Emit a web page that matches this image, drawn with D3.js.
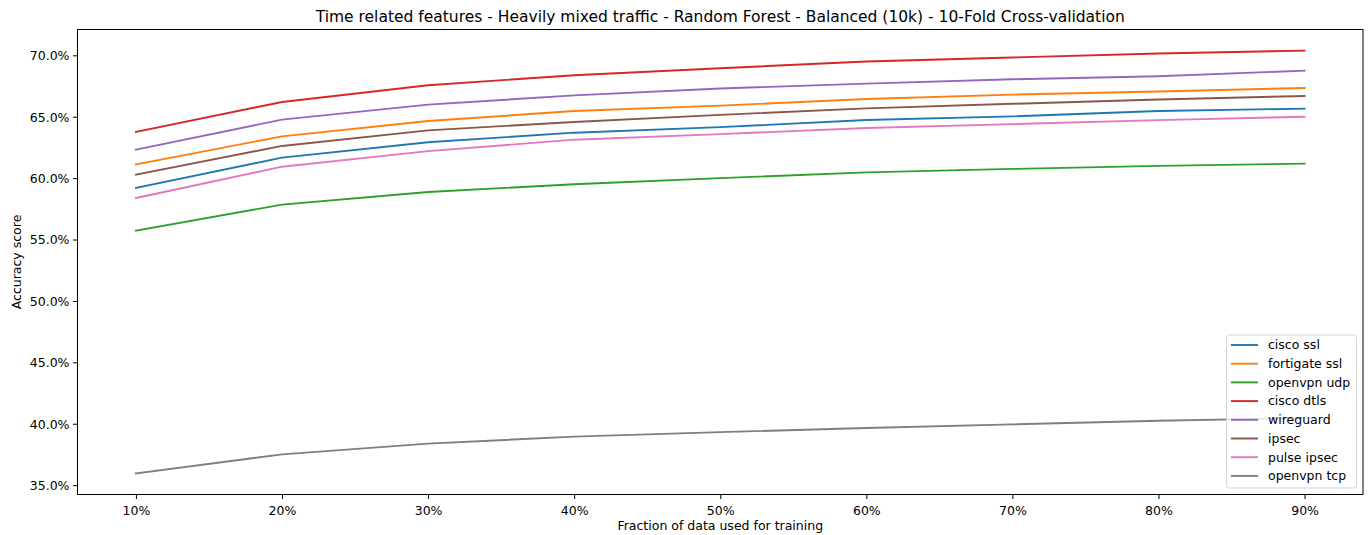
<!DOCTYPE html>
<html>
<head>
<meta charset="utf-8">
<style>
  body { margin: 0; background: #fff; }
  text { font-family: "DejaVu Sans", sans-serif; fill: #000; }
</style>
</head>
<body>
<script src="https://cdn.jsdelivr.net/npm/d3@7"></script>
<script>

  const fractions = [0.1, 0.2, 0.3, 0.4, 0.5, 0.6, 0.7, 0.8, 0.9]
  const seriesNames = ['cisco ssl', 'fortigate ssl', 'openvpn udp', 'cisco dtls',
                       'wireguard', 'ipsec', 'pulse ipsec', 'openvpn tcp']
  const colors = ['#1f77b4', '#ff7f0e', '#2ca02c', '#d62728',
                  '#9467bd', '#8c564b', '#e377c2', '#7f7f7f']

  // accuracy in percent
  const ciscoSsl    = [59.20, 61.67, 62.92, 63.70, 64.15, 64.73, 65.03, 65.46, 65.66]
  const fortigate   = [61.12, 63.40, 64.65, 65.46, 65.90, 66.44, 66.80, 67.05, 67.34]
  const openvpnUdp  = [55.72, 57.84, 58.87, 59.50, 60.00, 60.47, 60.75, 61.00, 61.18]
  const ciscoDtls   = [63.76, 66.20, 67.56, 68.38, 68.95, 69.49, 69.82, 70.15, 70.38]
  const wireguard   = [62.32, 64.76, 65.98, 66.74, 67.30, 67.69, 68.05, 68.30, 68.75]
  const ipsec       = [60.28, 62.62, 63.89, 64.57, 65.15, 65.68, 66.05, 66.40, 66.69]
  const pulseIpsec  = [58.38, 60.93, 62.20, 63.13, 63.58, 64.08, 64.40, 64.72, 65.00]
  const openvpnTcp  = [35.96, 37.51, 38.38, 38.95, 39.32, 39.65, 39.95, 40.25, 40.46]

  const allSeries = [ciscoSsl, fortigate, openvpnUdp, ciscoDtls, wireguard, ipsec, pulseIpsec, openvpnTcp]
  const yTicks = [35, 40, 45, 50, 55, 60, 65, 70]

  const title = 'Time related features - Heavily mixed traffic - Random Forest - Balanced (10k) - 10-Fold Cross-validation'
  const W = 1368, H = 535
  const frame = {left: 77.5, right: 1363, top: 29.5, bottom: 494.5}

  // matplotlib style 5% padding
  const xPad = (d3.max(fractions) - d3.min(fractions)) * 0.05
  const yMin = d3.min(allSeries, s => d3.min(s)), yMax = d3.max(allSeries, s => d3.max(s))
  const yPad = (yMax - yMin) * 0.05

  const x = d3.scaleLinear()
    .domain([d3.min(fractions) - xPad, d3.max(fractions) + xPad])
    .range([frame.left, frame.right])
  const y = d3.scaleLinear()
    .domain([yMin - yPad, yMax + yPad])
    .range([frame.bottom, frame.top])

  const svg = d3.select('body').append('svg')
      .attr('width', W)
      .attr('height', H)

  // lines
  const line = d3.line()
    .x((d, i) => x(fractions[i]))
    .y(d => y(d))

  svg.append('g')
    .selectAll('path')
    .data(allSeries)
    .enter()
    .append('path')
      .attr('d', line)
      .attr('fill', 'none')
      .attr('stroke', (d, i) => colors[i])
      .attr('stroke-width', 1.9)
      .attr('stroke-linejoin', 'round')
      .attr('stroke-linecap', 'square')

  // axes
  const xAxis = d3.axisBottom(x)
    .tickValues(fractions)
    .tickFormat(d3.format('.0%'))
    .tickSizeInner(4.5).tickSizeOuter(0)
  const yAxis = d3.axisLeft(y)
    .tickValues(yTicks)
    .tickFormat(d => d.toFixed(1) + '%')
    .tickSizeInner(4.5).tickSizeOuter(0)

  const gx = svg.append('g')
      .attr('transform', `translate(0, ${frame.bottom})`)
      .call(xAxis)
  const gy = svg.append('g')
      .attr('transform', `translate(${frame.left}, 0)`)
      .call(yAxis)

  for (const g of [gx, gy]) {
    g.select('.domain').remove()
    g.selectAll('.tick line').attr('stroke', '#000').attr('stroke-width', 1)
    g.selectAll('.tick text')
      .style('font-family', '"DejaVu Sans", sans-serif')
      .style('font-size', '12.5px')
      .attr('fill', '#000')
  }
  gx.selectAll('.tick text').attr('dy', '1.05em')
  gy.selectAll('.tick text').attr('x', -8).attr('dy', '0.35em')

  // frame
  svg.append('rect')
      .attr('x', frame.left)
      .attr('y', frame.top)
      .attr('width', frame.right - frame.left)
      .attr('height', frame.bottom - frame.top)
      .attr('fill', 'none')
      .attr('stroke', '#000')
      .attr('stroke-width', 1)

  // title and axis labels
  svg.append('text')
      .attr('x', (frame.left + frame.right) / 2)
      .attr('y', 22)
      .attr('text-anchor', 'middle')
      .style('font-size', '15.5px')
      .text(title)

  svg.append('text')
      .attr('x', (frame.left + frame.right) / 2)
      .attr('y', 530)
      .attr('text-anchor', 'middle')
      .style('font-size', '12.5px')
      .text('Fraction of data used for training')

  svg.append('text')
      .attr('transform', `translate(21, ${(frame.top + frame.bottom) / 2}) rotate(-90)`)
      .attr('text-anchor', 'middle')
      .style('font-size', '12.5px')
      .text('Accuracy score')

  // legend
  const legend = svg.append('g')
  legend.append('rect')
      .attr('x', 1226.5)
      .attr('y', 335)
      .attr('width', 130)
      .attr('height', 153)
      .attr('rx', 3)
      .attr('fill', '#fff')
      .attr('fill-opacity', 0.8)
      .attr('stroke', '#ccc')
      .attr('stroke-opacity', 0.8)
      .attr('stroke-width', 1)

  const rows = legend.selectAll('.legend-row')
    .data(seriesNames)
    .enter()
    .append('g')
      .attr('class', 'legend-row')
      .attr('transform', (d, i) => `translate(0, ${345 + i * 18.7})`)

  rows.append('line')
      .attr('x1', 1231).attr('x2', 1258)
      .attr('y1', 0).attr('y2', 0)
      .attr('stroke', (d, i) => colors[i])
      .attr('stroke-width', 1.9)
  rows.append('text')
      .attr('x', 1268)
      .attr('dy', '0.35em')
      .style('font-size', '12.5px')
      .text(d => d)

</script>
</body>
</html>
